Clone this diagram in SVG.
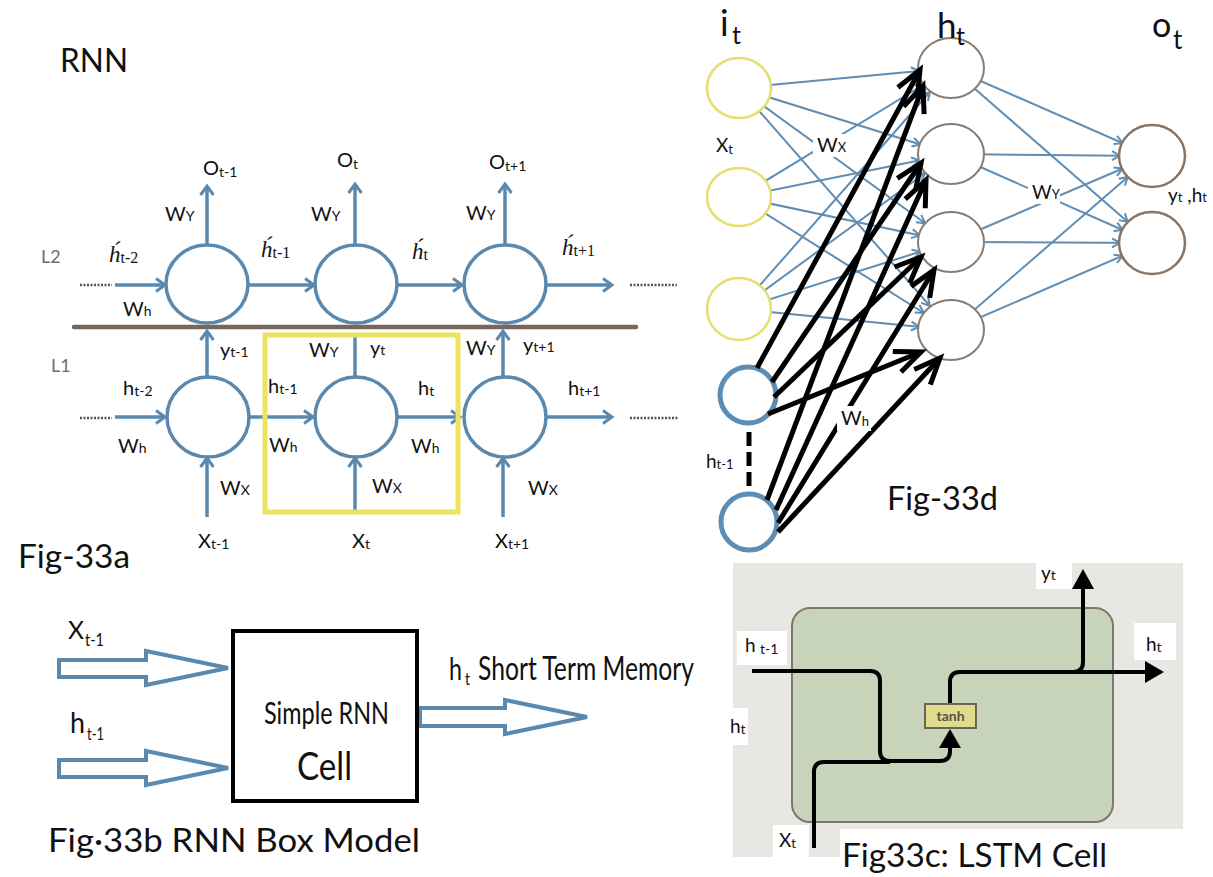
<svg xmlns="http://www.w3.org/2000/svg" width="1213" height="877" viewBox="0 0 1213 877">
<style>
.t{font-family:Lato,"Open Sans","Liberation Sans",sans-serif;fill:#111}
.lb{font-size:20px}
.sb{font-size:14px}
.hs{font-family:"Liberation Serif",serif;font-style:italic;font-size:23px;fill:#111}
.hss{font-family:"Liberation Serif",serif;font-style:normal;font-size:16px}
.gl{font-family:Lato,"Open Sans",sans-serif;font-size:18px;fill:#7a6a62}
.ba{stroke:#5b88ad;stroke-width:3.5;fill:none}
.dot{stroke:#555;stroke-width:2.5;stroke-dasharray:2 1.5;fill:none}
.bl{stroke:#5f8db3;stroke-width:2;fill:none}
.kl{stroke:#000;stroke-width:5;fill:none}
.cell{fill:#fff;stroke:#5b88ad;stroke-width:3.5}
.ho{fill:#fff;stroke:#8a7b70;stroke-width:2}
.box{fill:#fff;stroke:#5b88ad;stroke-width:4;stroke-linejoin:miter}
.lp{stroke:#000;stroke-width:4;fill:none}
.wp{fill:#fff}
</style>
<defs>
<marker id="ab" markerUnits="userSpaceOnUse" viewBox="-14 -9 16 18" refX="0" refY="0" markerWidth="16" markerHeight="18" orient="auto" overflow="visible">
<path d="M-9,-6.5 L0,0 L-9,6.5" fill="none" stroke="#5b88ad" stroke-width="3"/>
</marker>
<marker id="bh" markerUnits="userSpaceOnUse" viewBox="-50 -10 60 20" refX="0" refY="0" markerWidth="60" markerHeight="20" orient="auto" overflow="visible">
<path d="M-40,-4.5 L-32,0 L-40,4.5" fill="none" stroke="#5f8db3" stroke-width="2"/>
</marker>
<marker id="kb" markerUnits="userSpaceOnUse" viewBox="-32 -16 36 32" refX="0" refY="0" markerWidth="36" markerHeight="32" orient="auto" overflow="visible">
<path d="M-26,-11 L0,0 L-26,11" fill="none" stroke="#000" stroke-width="5"/>
</marker>
</defs>
<rect width="1213" height="877" fill="#fff"/>

<!-- ================= Fig-33a ================= -->
<g id="fig33a-connectors">
<line x1="74" y1="327" x2="636" y2="327" stroke="#76665e" stroke-width="4.5" stroke-linecap="round"/>
<line class="dot" x1="80" y1="285" x2="112" y2="285"/>
<line class="ba" x1="115" y1="285" x2="165" y2="285" marker-end="url(#ab)"/>
<line class="ba" x1="248" y1="285" x2="314" y2="285" marker-end="url(#ab)"/>
<line class="ba" x1="397" y1="285" x2="462" y2="285" marker-end="url(#ab)"/>
<line class="ba" x1="546" y1="285" x2="612" y2="285" marker-end="url(#ab)"/>
<line class="dot" x1="630" y1="285" x2="677" y2="285"/>
<line class="ba" x1="207" y1="244" x2="207" y2="186" marker-end="url(#ab)"/>
<line class="ba" x1="355" y1="244" x2="355" y2="184" marker-end="url(#ab)"/>
<line class="ba" x1="505" y1="244" x2="505" y2="184" marker-end="url(#ab)"/>
<line class="dot" x1="80" y1="418" x2="112" y2="418"/>
<line class="ba" x1="115" y1="417" x2="165" y2="417" marker-end="url(#ab)"/>
<line class="ba" x1="249" y1="417" x2="313" y2="417" marker-end="url(#ab)"/>
<line class="ba" x1="397" y1="417" x2="460" y2="417" marker-end="url(#ab)"/>
<line class="ba" x1="546" y1="417" x2="612" y2="417" marker-end="url(#ab)"/>
<line class="dot" x1="630" y1="418" x2="678" y2="418"/>
<line class="ba" x1="207" y1="376" x2="207" y2="331" marker-end="url(#ab)"/>
<line class="ba" x1="355" y1="376" x2="355" y2="337"/>
<line class="ba" x1="503" y1="376" x2="503" y2="331" marker-end="url(#ab)"/>
<line class="ba" x1="207" y1="517" x2="207" y2="458" marker-end="url(#ab)"/>
<line class="ba" x1="355" y1="514" x2="355" y2="458" marker-end="url(#ab)"/>
<line class="ba" x1="503" y1="517" x2="503" y2="458" marker-end="url(#ab)"/>
</g>
<g id="rnn-l2-1"><ellipse class="cell" cx="207" cy="284" rx="41" ry="39"/></g>
<g id="rnn-l2-2"><ellipse class="cell" cx="356" cy="284" rx="41" ry="39"/></g>
<g id="rnn-l2-3"><ellipse class="cell" cx="505" cy="284" rx="41" ry="39"/></g>
<g id="rnn-l1-1"><ellipse class="cell" cx="208" cy="417" rx="41" ry="40"/></g>
<g id="rnn-l1-2"><ellipse class="cell" cx="356" cy="417" rx="41" ry="40"/></g>
<g id="rnn-l1-3"><ellipse class="cell" cx="505" cy="417" rx="41" ry="40"/></g>
<g id="rnn-highlight"><rect x="265" y="335" width="193" height="177" fill="none" stroke="#eee35f" stroke-width="5"/></g>
<g id="fig33a-labels">
<text class="t" x="60" y="72" font-size="33" textLength="68" lengthAdjust="spacingAndGlyphs">RNN</text>
<text class="gl" x="41" y="263">L2</text>
<text class="gl" x="51" y="372">L1</text>
<text class="t lb" x="203" y="175">O<tspan class="sb" dy="2">t-1</tspan></text>
<text class="t lb" x="337" y="167">O<tspan class="sb" dy="2">t</tspan></text>
<text class="t lb" x="489" y="169">O<tspan class="sb" dy="2">t+1</tspan></text>
<text class="t lb" x="165" y="221">W<tspan class="sb">Y</tspan></text>
<text class="t lb" x="311" y="221">W<tspan class="sb">Y</tspan></text>
<text class="t lb" x="466" y="220">W<tspan class="sb">Y</tspan></text>
<text class="hs" x="109" y="262">h&#x301;<tspan class="hss" dy="1">t-2</tspan></text>
<text class="hs" x="261" y="257">h&#x301;<tspan class="hss" dy="1">t-1</tspan></text>
<text class="hs" x="412" y="259">h&#x301;<tspan class="hss" dy="1">t</tspan></text>
<text class="hs" x="562" y="255">h&#x301;<tspan class="hss" dy="1">t+1</tspan></text>
<text class="t lb" x="123" y="316">W<tspan class="sb">h</tspan></text>
<text class="t lb" x="220" y="357">y<tspan class="sb">t-1</tspan></text>
<text class="t lb" x="309" y="357">W<tspan class="sb">Y</tspan></text>
<text class="t lb" x="370" y="355">y<tspan class="sb">t</tspan></text>
<text class="t lb" x="466" y="355">W<tspan class="sb">Y</tspan></text>
<text class="t lb" x="523" y="352">y<tspan class="sb">t+1</tspan></text>
<text class="t lb" x="123" y="395">h<tspan class="sb" dy="1">t-2</tspan></text>
<text class="t lb" x="268" y="393">h<tspan class="sb" dy="1">t-1</tspan></text>
<text class="t lb" x="418" y="395">h<tspan class="sb" dy="1">t</tspan></text>
<text class="t lb" x="568" y="395">h<tspan class="sb" dy="1">t+1</tspan></text>
<text class="t lb" x="118" y="453">W<tspan class="sb">h</tspan></text>
<text class="t lb" x="269" y="452">W<tspan class="sb">h</tspan></text>
<text class="t lb" x="411" y="453">W<tspan class="sb">h</tspan></text>
<text class="t lb" x="220" y="495">W<tspan class="sb">X</tspan></text>
<text class="t lb" x="372" y="493">W<tspan class="sb">X</tspan></text>
<text class="t lb" x="528" y="495">W<tspan class="sb">X</tspan></text>
<text class="t lb" x="198" y="548">X<tspan class="sb" dy="1">t-1</tspan></text>
<text class="t lb" x="352" y="548">X<tspan class="sb" dy="1">t</tspan></text>
<text class="t lb" x="495" y="548">X<tspan class="sb" dy="1">t+1</tspan></text>
<text class="t" x="18" y="568" font-size="32" textLength="112" lengthAdjust="spacingAndGlyphs">Fig-33a</text>
</g>

<!-- ================= Fig-33b ================= -->
<g id="fig33b-connectors">
<polygon class="box" points="59,660 146,660 146,651 228,668 146,685 146,677 59,677"/>
<polygon class="box" points="59,760 146,760 146,751 228,768 146,785 146,777 59,777"/>
<polygon class="box" points="420,708 505,708 505,700 587,717 505,734 505,726 420,726"/>
</g>
<g id="simple-rnn-cell">
<rect x="233" y="631" width="184" height="170" fill="#fff" stroke="#000" stroke-width="4"/>
<text class="t" x="264" y="724" font-size="31" textLength="125" lengthAdjust="spacingAndGlyphs">Simple RNN</text>
<text class="t" x="297" y="780" font-size="38" textLength="55" lengthAdjust="spacingAndGlyphs">Cell</text>
</g>
<g id="fig33b-labels">
<text class="t" x="68" y="639" font-size="25" textLength="16" lengthAdjust="spacingAndGlyphs">X</text>
<text class="t" x="85" y="646" font-size="17" textLength="19" lengthAdjust="spacingAndGlyphs">t-1</text>
<text class="t" x="70" y="733" font-size="28" textLength="15" lengthAdjust="spacingAndGlyphs">h</text>
<text class="t" x="87" y="740" font-size="17" textLength="17" lengthAdjust="spacingAndGlyphs">t-1</text>
<text class="t" x="449" y="680" font-size="31" textLength="13" lengthAdjust="spacingAndGlyphs">h</text>
<text class="t" x="465" y="685" font-size="17" textLength="5" lengthAdjust="spacingAndGlyphs">t</text>
<text class="t" x="478" y="680" font-size="32" textLength="216" lengthAdjust="spacingAndGlyphs">Short Term Memory</text>
<text class="t" x="48" y="852" font-size="32" textLength="372" lengthAdjust="spacingAndGlyphs">Fig·33b RNN Box Model</text>
</g>

<!-- ================= Fig-33c ================= -->
<g id="fig33c-background">
<rect x="733" y="563" width="450" height="266" fill="#e7e7e3"/>
<rect x="733" y="829" width="107" height="28" fill="#e7e7e3"/>
<rect class="wp" x="773" y="825" width="36" height="35"/>
<rect class="wp" x="1036" y="560" width="36" height="29"/>
<rect class="wp" x="1134" y="623" width="42" height="37"/>
<rect class="wp" x="737" y="631" width="50" height="34"/>
<rect class="wp" x="722" y="708" width="26" height="37"/>
</g>
<g id="lstm-cell">
<rect x="792" y="608" width="321" height="214" rx="18" fill="#c7d4b9" stroke="#7d776d" stroke-width="2"/>
</g>
<g id="fig33c-connectors">
<path class="lp" d="M752,671 H870 Q880,671 880,681 V751 Q880,761 890,761 H940 Q950,761 950,751 V746"/>
<path class="lp" d="M814,848 V772 Q814,762 824,762 H890"/>
<polygon points="950,729 939,748 961,748" fill="#000"/>
<path class="lp" d="M950,704 V682 Q950,672 960,672 H1148"/>
<polygon points="1164,672 1145,661 1145,683" fill="#000"/>
<path class="lp" d="M1073,672 Q1083,672 1083,662 V586"/>
<polygon points="1083,569 1072,589 1094,589" fill="#000"/>
</g>
<g id="tanh">
<rect x="925" y="704" width="51" height="24" fill="#dedd8c" stroke="#6e625a" stroke-width="2"/>
<text x="950.5" y="721" text-anchor="middle" font-family="Lato,'Open Sans',sans-serif" font-size="14" font-weight="bold" fill="#5a5048">tanh</text>
</g>
<g id="fig33c-labels">
<text class="t" x="1041" y="580" font-size="19">y<tspan font-size="14">t</tspan></text>
<text class="t" x="1146" y="651" font-size="19">h<tspan font-size="14" dy="1">t</tspan></text>
<text class="t" x="745" y="652" font-size="19">h</text>
<text class="t" x="760" y="654" font-size="14">t-1</text>
<text class="t" x="730" y="733" font-size="19">h<tspan font-size="14" dy="1">t</tspan></text>
<text class="t" x="779" y="847" font-size="19">X<tspan font-size="13" dy="1">t</tspan></text>
<text class="t" x="842" y="867" font-size="33" textLength="265" lengthAdjust="spacingAndGlyphs">Fig33c: LSTM Cell</text>
</g>

<!-- ================= Fig-33d ================= -->
<g id="fig33d-connectors">
<line class="bl" x1="739" y1="88" x2="951" y2="68" marker-end="url(#bh)"/>
<line class="bl" x1="739" y1="88" x2="951" y2="154" marker-end="url(#bh)"/>
<line class="bl" x1="739" y1="88" x2="951" y2="242" marker-end="url(#bh)"/>
<line class="bl" x1="739" y1="88" x2="951" y2="330" marker-end="url(#bh)"/>
<line class="bl" x1="739" y1="197" x2="951" y2="68" marker-end="url(#bh)"/>
<line class="bl" x1="739" y1="197" x2="951" y2="154" marker-end="url(#bh)"/>
<line class="bl" x1="739" y1="197" x2="951" y2="242" marker-end="url(#bh)"/>
<line class="bl" x1="739" y1="197" x2="951" y2="330" marker-end="url(#bh)"/>
<line class="bl" x1="739" y1="309" x2="951" y2="68" marker-end="url(#bh)"/>
<line class="bl" x1="739" y1="309" x2="951" y2="154" marker-end="url(#bh)"/>
<line class="bl" x1="739" y1="309" x2="951" y2="242" marker-end="url(#bh)"/>
<line class="bl" x1="739" y1="309" x2="951" y2="330" marker-end="url(#bh)"/>
<line class="bl" x1="951" y1="68" x2="1152" y2="156" marker-end="url(#bh)"/>
<line class="bl" x1="951" y1="68" x2="1152" y2="243" marker-end="url(#bh)"/>
<line class="bl" x1="951" y1="154" x2="1152" y2="156" marker-end="url(#bh)"/>
<line class="bl" x1="951" y1="154" x2="1152" y2="243" marker-end="url(#bh)"/>
<line class="bl" x1="951" y1="242" x2="1152" y2="156" marker-end="url(#bh)"/>
<line class="bl" x1="951" y1="242" x2="1152" y2="243" marker-end="url(#bh)"/>
<line class="bl" x1="951" y1="330" x2="1152" y2="156" marker-end="url(#bh)"/>
<line class="bl" x1="951" y1="330" x2="1152" y2="243" marker-end="url(#bh)"/>
</g>
<g id="input-1"><ellipse cx="739" cy="88" rx="32" ry="30" fill="#fff" stroke="#e6df6e" stroke-width="2.5"/></g>
<g id="input-2"><ellipse cx="739" cy="197" rx="32" ry="29" fill="#fff" stroke="#e6df6e" stroke-width="2.5"/></g>
<g id="input-3"><ellipse cx="739" cy="309" rx="32" ry="31" fill="#fff" stroke="#e6df6e" stroke-width="2.5"/></g>
<g id="hidden-1"><ellipse class="ho" cx="951" cy="68" rx="33" ry="30"/></g>
<g id="hidden-2"><ellipse class="ho" cx="951" cy="154" rx="33" ry="30"/></g>
<g id="hidden-3"><ellipse class="ho" cx="951" cy="242" rx="33" ry="30"/></g>
<g id="hidden-4"><ellipse class="ho" cx="951" cy="330" rx="33" ry="30"/></g>
<g id="output-1"><ellipse cx="1152" cy="156" rx="33" ry="31" fill="#fff" stroke="#8a7565" stroke-width="2.5"/></g>
<g id="output-2"><ellipse cx="1152" cy="243" rx="33" ry="31" fill="#fff" stroke="#8a7565" stroke-width="2.5"/></g>
<g id="prev-h-1"><circle cx="748" cy="395" r="28" fill="#fff" stroke="#5b8db5" stroke-width="5"/></g>
<g id="prev-h-2"><circle cx="749" cy="522" r="28" fill="#fff" stroke="#5b8db5" stroke-width="5"/></g>
<g id="fig33d-recurrent">
<line class="kl" x1="749" y1="432" x2="749" y2="492" stroke-dasharray="14 6"/>
<line class="kl" x1="757" y1="368" x2="920" y2="70" marker-end="url(#kb)"/>
<line class="kl" x1="772" y1="382" x2="921" y2="163" marker-end="url(#kb)"/>
<line class="kl" x1="774" y1="397" x2="921" y2="257" marker-end="url(#kb)"/>
<line class="kl" x1="768" y1="414" x2="921" y2="352" marker-end="url(#kb)"/>
<line class="kl" x1="767" y1="500" x2="923" y2="86" marker-end="url(#kb)"/>
<line class="kl" x1="776" y1="510" x2="926" y2="180" marker-end="url(#kb)"/>
<line class="kl" x1="778" y1="523" x2="934" y2="270" marker-end="url(#kb)"/>
<line class="kl" x1="778" y1="532" x2="940" y2="358" marker-end="url(#kb)"/>
</g>
<g id="fig33d-labels">
<text class="t" x="720" y="36" font-size="36">i</text>
<text class="t" x="732" y="44" font-size="25">t</text>
<text class="t" x="937" y="38" font-size="35">h</text>
<text class="t" x="956" y="45" font-size="25">t</text>
<text class="t" x="1152" y="37" font-size="34">o</text>
<text class="t" x="1173" y="49" font-size="26">t</text>
<text class="t" x="716" y="152" font-size="19">X<tspan font-size="13" dy="2">t</tspan></text>
<rect class="wp" x="813" y="134" width="32" height="23"/>
<text class="t" x="817" y="152" font-size="20">W<tspan font-size="13">X</tspan></text>
<rect class="wp" x="1028" y="182" width="32" height="22"/>
<text class="t" x="1032" y="199" font-size="19">W<tspan font-size="13">Y</tspan></text>
<text class="t" x="1168" y="202" font-size="19">y<tspan font-size="13">t</tspan> ,h<tspan font-size="13">t</tspan></text>
<rect class="wp" x="837" y="406" width="34" height="25"/>
<text class="t" x="841" y="425" font-size="20">W<tspan font-size="13" dy="1">h</tspan></text>
<text class="t" x="706" y="468" font-size="19">h<tspan font-size="13" dy="1">t-1</tspan></text>
<text class="t" x="887" y="510" font-size="32" textLength="111" lengthAdjust="spacingAndGlyphs">Fig-33d</text>
</g>
</svg>
